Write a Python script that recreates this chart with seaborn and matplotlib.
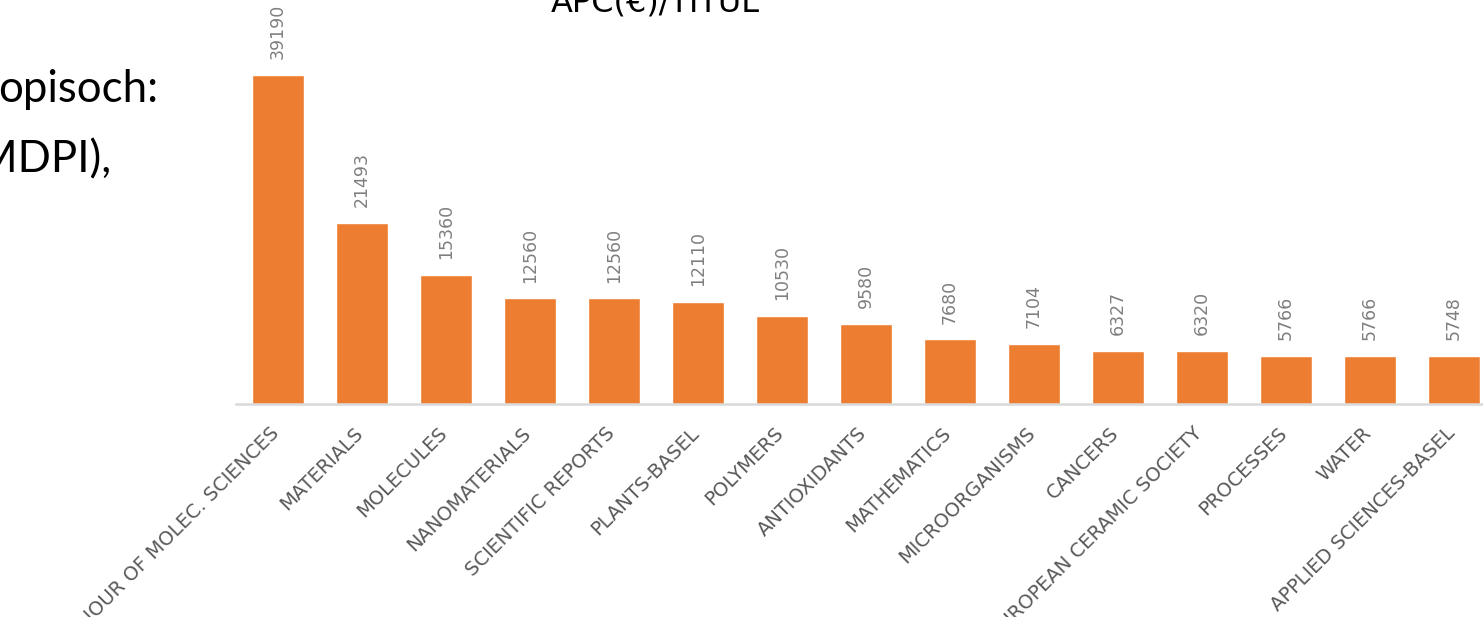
import matplotlib
matplotlib.use("Agg")
import matplotlib.pyplot as plt
import matplotlib.transforms as mtransforms
import seaborn as sns

# APC per journal title
journals = [
    "INT. JOUR OF MOLEC. SCIENCES", "MATERIALS", "MOLECULES", "NANOMATERIALS",
    "SCIENTIFIC REPORTS", "PLANTS-BASEL", "POLYMERS", "ANTIOXIDANTS",
    "MATHEMATICS", "MICROORGANISMS", "CANCERS",
    "JOUR OF EUROPEAN CERAMIC SOCIETY", "PROCESSES", "WATER",
    "APPLIED SCIENCES-BASEL",
]
apc = [39190, 21493, 15360, 12560, 12560, 12110, 10530, 9580,
       7680, 7104, 6327, 6320, 5766, 5766, 5748]

title = "APC(€)/TITUL"
side_lines = ["opisoch:", "MDPI),"]

sns.set_style("white")
plt.rcParams["font.family"] = ["DejaVu Sans"]

fig = plt.figure(figsize=(14.83, 6.17), dpi=100)
ax = fig.add_axes([236 / 1483, 1 - 404 / 617, 1260 / 1483, 336 / 617])

sns.barplot(x=journals, y=apc, color="#ED7D31", saturation=1,
            width=0.62, ax=ax)
ax.set_ylim(0, 40000)
ax.set_xlim(-0.5, 14.5)

ax.bar_label(ax.containers[0], labels=[str(v) for v in apc], rotation=90,
             padding=11.5, fontsize=12.5, color="#7F7F7F")

for side in ["left", "right", "top"]:
    ax.spines[side].set_visible(False)
ax.spines["bottom"].set_color("#D9D9D9")
ax.spines["bottom"].set_linewidth(1.8)
ax.set_yticks([])
ax.set_xlabel("")
ax.set_ylabel("")
ax.tick_params(axis="x", length=0, pad=19)

shift = mtransforms.ScaledTranslation(-2 / 100, 0, fig.dpi_scale_trans)
for lab in ax.get_xticklabels():
    lab.set_rotation(45)
    lab.set_ha("right")
    lab.set_va("center")
    lab.set_rotation_mode("anchor")
    lab.set_fontsize(14)
    lab.set_color("#595959")
    lab.set_transform(lab.get_transform() + shift)

fig.text(655 / 1483, 1 - 11 / 617, title, ha="center", va="baseline",
         fontsize=23, color="black")

fig.text(158 / 1483, 1 - 102 / 617, side_lines[0], ha="right",
         va="baseline", fontsize=31.5, color="black", family="Lato")
fig.text(111 / 1483, 1 - 172 / 617, side_lines[1], ha="right",
         va="baseline", fontsize=31.5, color="black", family="Lato")

fig.savefig("out.png", dpi=100)
